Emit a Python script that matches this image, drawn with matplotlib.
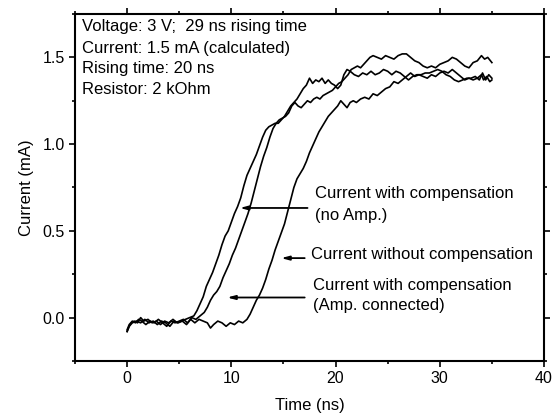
import matplotlib
matplotlib.use("Agg")
import matplotlib.pyplot as plt
from matplotlib.ticker import MultipleLocator

plt.rcParams['font.family'] = ['Liberation Sans', 'DejaVu Sans']

# Curve: current with compensation (no Amp.)
t_a = [0.0, 0.2, 0.4, 0.7, 1.0, 1.3, 1.6, 2.0, 2.4, 2.8, 3.2, 3.6, 4.0, 4.4, 4.8, 5.2, 5.6, 6.0, 6.4,
       6.7, 7.0, 7.3, 7.6, 7.9, 8.2, 8.5, 8.8, 9.1, 9.4, 9.7, 10.0, 10.3, 10.6, 10.9, 11.2, 11.5, 11.8,
       12.1, 12.4, 12.7, 13.0, 13.3, 13.6, 13.9, 14.2, 14.5, 14.8, 15.1, 15.4, 15.7, 16.0, 16.3, 16.6,
       16.9, 17.2, 17.5, 17.8, 18.1, 18.4, 18.7, 19.0, 19.3, 19.6, 19.9, 20.2, 20.5, 20.8, 21.1, 21.4,
       21.8, 22.2, 22.6, 23.0, 23.4, 23.8, 24.2, 24.6, 25.0, 25.4, 25.8, 26.2, 26.6, 27.0, 27.4, 27.8,
       28.2, 28.6, 29.0, 29.4, 29.8, 30.2, 30.6, 31.0, 31.4, 31.8, 32.2, 32.6, 33.0, 33.4, 33.8, 34.1,
       34.4, 34.7, 35.0]
i_a = [-0.08, -0.05, -0.03, -0.02, -0.03, 0.00, -0.02, -0.01, -0.03, -0.02, -0.04, -0.02, -0.03, -0.01,
       -0.03, -0.02, -0.01, 0.00, 0.01, 0.04, 0.08, 0.12, 0.18, 0.22, 0.26, 0.31, 0.36, 0.42, 0.47, 0.50,
       0.55, 0.60, 0.64, 0.69, 0.76, 0.82, 0.86, 0.90, 0.94, 0.99, 1.04, 1.08, 1.10, 1.11, 1.12, 1.12,
       1.14, 1.16, 1.19, 1.22, 1.24, 1.26, 1.29, 1.32, 1.34, 1.38, 1.35, 1.37, 1.36, 1.38, 1.35, 1.37,
       1.35, 1.34, 1.32, 1.34, 1.40, 1.43, 1.42, 1.40, 1.39, 1.41, 1.40, 1.42, 1.40, 1.41, 1.43, 1.42,
       1.40, 1.42, 1.41, 1.39, 1.37, 1.39, 1.40, 1.40, 1.41, 1.41, 1.42, 1.43, 1.42, 1.40, 1.39, 1.37,
       1.36, 1.37, 1.38, 1.38, 1.39, 1.37, 1.41, 1.37, 1.40, 1.38]

# Curve: current with compensation (Amp. connected)
t_b = [0.0, 0.2, 0.5, 0.8, 1.1, 1.4, 1.8, 2.2, 2.6, 3.0, 3.4, 3.8, 4.2, 4.6, 5.0, 5.4, 5.8, 6.2, 6.6,
       7.0, 7.4, 7.7, 8.0, 8.3, 8.6, 8.9, 9.2, 9.5, 9.8, 10.1, 10.4, 10.7, 11.0, 11.3, 11.6, 11.9, 12.2,
       12.5, 12.8, 13.1, 13.4, 13.7, 14.0, 14.3, 14.6, 14.9, 15.2, 15.5, 15.8, 16.1, 16.4, 16.7, 17.0,
       17.3, 17.6, 17.9, 18.2, 18.5, 18.8, 19.1, 19.4, 19.7, 20.0, 20.3, 20.6, 20.9, 21.2, 21.5, 21.8,
       22.1, 22.4, 22.7, 23.0, 23.3, 23.6, 24.0, 24.4, 24.8, 25.2, 25.6, 26.0, 26.4, 26.8, 27.2, 27.6,
       28.0, 28.4, 28.8, 29.2, 29.6, 30.0, 30.4, 30.8, 31.2, 31.6, 32.0, 32.4, 32.8, 33.2, 33.6, 34.0,
       34.3, 34.6, 35.0]
i_b = [-0.07, -0.04, -0.02, -0.03, -0.01, -0.02, -0.04, -0.02, -0.03, -0.01, -0.03, -0.05, -0.02, -0.03,
       -0.02, -0.01, -0.03, 0.00, -0.01, 0.01, 0.03, 0.06, 0.10, 0.13, 0.15, 0.18, 0.23, 0.27, 0.31, 0.36,
       0.40, 0.45, 0.50, 0.55, 0.60, 0.66, 0.73, 0.80, 0.87, 0.93, 0.98, 1.04, 1.09, 1.12, 1.14, 1.15,
       1.16, 1.18, 1.22, 1.24, 1.22, 1.21, 1.23, 1.25, 1.24, 1.26, 1.27, 1.26, 1.28, 1.29, 1.30, 1.31,
       1.33, 1.35, 1.36, 1.38, 1.40, 1.43, 1.44, 1.45, 1.44, 1.46, 1.48, 1.50, 1.51, 1.50, 1.49, 1.51,
       1.50, 1.49, 1.51, 1.52, 1.52, 1.50, 1.48, 1.47, 1.45, 1.44, 1.45, 1.44, 1.46, 1.47, 1.48, 1.50,
       1.49, 1.47, 1.45, 1.44, 1.47, 1.48, 1.51, 1.49, 1.50, 1.47]

# Curve: current without compensation
t_c = [0.0, 0.2, 0.5, 0.9, 1.3, 1.7, 2.1, 2.5, 2.9, 3.3, 3.7, 4.1, 4.5, 4.9, 5.3, 5.7, 6.1, 6.5, 6.9,
       7.3, 7.7, 8.0, 8.3, 8.7, 9.1, 9.5, 9.9, 10.3, 10.7, 11.1, 11.5, 11.8, 12.1, 12.4, 12.7, 13.0,
       13.3, 13.6, 13.9, 14.2, 14.5, 14.8, 15.1, 15.4, 15.7, 16.0, 16.3, 16.6, 16.9, 17.2, 17.5, 17.8,
       18.1, 18.4, 18.7, 19.0, 19.3, 19.6, 19.9, 20.2, 20.5, 20.8, 21.1, 21.4, 21.7, 22.0, 22.4, 22.8,
       23.2, 23.6, 24.0, 24.4, 24.8, 25.2, 25.6, 26.0, 26.4, 26.8, 27.2, 27.6, 28.0, 28.4, 28.8, 29.2,
       29.6, 30.0, 30.4, 30.8, 31.2, 31.6, 32.0, 32.4, 32.8, 33.2, 33.6, 34.0, 34.2, 34.5, 34.8, 35.0]
i_c = [-0.08, -0.05, -0.03, -0.02, -0.03, -0.01, -0.03, -0.02, -0.04, -0.02, -0.03, -0.05, -0.02, -0.03,
       -0.02, -0.04, -0.01, -0.03, -0.01, -0.02, -0.03, -0.06, -0.04, -0.02, -0.03, -0.05, -0.03, -0.04,
       -0.02, -0.03, -0.01, 0.02, 0.06, 0.10, 0.13, 0.17, 0.22, 0.28, 0.33, 0.39, 0.44, 0.49, 0.54, 0.61,
       0.68, 0.75, 0.80, 0.83, 0.86, 0.90, 0.95, 0.99, 1.03, 1.07, 1.10, 1.13, 1.16, 1.18, 1.20, 1.22,
       1.25, 1.23, 1.21, 1.24, 1.25, 1.24, 1.26, 1.27, 1.26, 1.29, 1.28, 1.30, 1.32, 1.33, 1.36, 1.35,
       1.37, 1.39, 1.41, 1.39, 1.40, 1.39, 1.38, 1.40, 1.39, 1.41, 1.42, 1.41, 1.43, 1.41, 1.39, 1.37,
       1.38, 1.37, 1.38, 1.40, 1.37, 1.39, 1.36, 1.37]

info_lines = ["Voltage: 3 V;  29 ns rising time",
              "Current: 1.5 mA (calculated)",
              "Rising time: 20 ns",
              "Resistor: 2 kOhm"]

fig = plt.figure(figsize=(5.53, 4.15), dpi=100)
ax = fig.add_axes([75/553, 1 - 361/415, (544 - 75)/553, (361 - 14)/415])

for t, i in ((t_a, i_a), (t_b, i_b), (t_c, i_c)):
    ax.plot(t, i, color='black', lw=1.2)

ax.set_xlim(-5, 40)
ax.set_ylim(-0.25, 1.75)
ax.xaxis.set_major_locator(MultipleLocator(10))
ax.xaxis.set_minor_locator(MultipleLocator(5))
ax.yaxis.set_major_locator(MultipleLocator(0.5))
ax.yaxis.set_minor_locator(MultipleLocator(0.25))
ax.yaxis.set_major_formatter(matplotlib.ticker.FormatStrFormatter('%.1f'))
ax.tick_params(which='both', direction='out', top=True, right=True, width=1.2, labelsize=11.5)
ax.tick_params(which='major', length=4.5, pad=3)
ax.tick_params(which='minor', length=2.5)
for s in ax.spines.values():
    s.set_linewidth(1.5)

ax.set_xlabel("Time (ns)", fontsize=12, labelpad=8)
ax.set_ylabel("Current (mA)", fontsize=12, labelpad=6)

ys = [0.963, 0.901, 0.843, 0.783]
for s, y in zip(info_lines, ys):
    ax.text(0.014, y, s, transform=ax.transAxes, fontsize=12, va='center', ha='left')

arrow_kw = dict(arrowstyle='-|>,head_length=0.45,head_width=0.12', color='black', lw=1.3,
                shrinkA=0, shrinkB=0)
ax.annotate("", xy=(10.82, 0.632), xytext=(17.31, 0.632), arrowprops=arrow_kw)
ax.annotate("", xy=(14.78, 0.343), xytext=(17.04, 0.343), arrowprops=arrow_kw)
ax.annotate("", xy=(9.60, 0.116), xytext=(17.04, 0.116), arrowprops=arrow_kw)

ax.text(17.99, 0.713, "Current with compensation", fontsize=12, va='center', ha='left')
ax.text(17.99, 0.588, "(no Amp.)", fontsize=12, va='center', ha='left')
ax.text(17.65, 0.362, "Current without compensation", fontsize=12, va='center', ha='left')
ax.text(17.82, 0.183, "Current with compensation", fontsize=12, va='center', ha='left')
ax.text(17.82, 0.0675, "(Amp. connected)", fontsize=12, va='center', ha='left')

fig.savefig("out.png", dpi=100)
